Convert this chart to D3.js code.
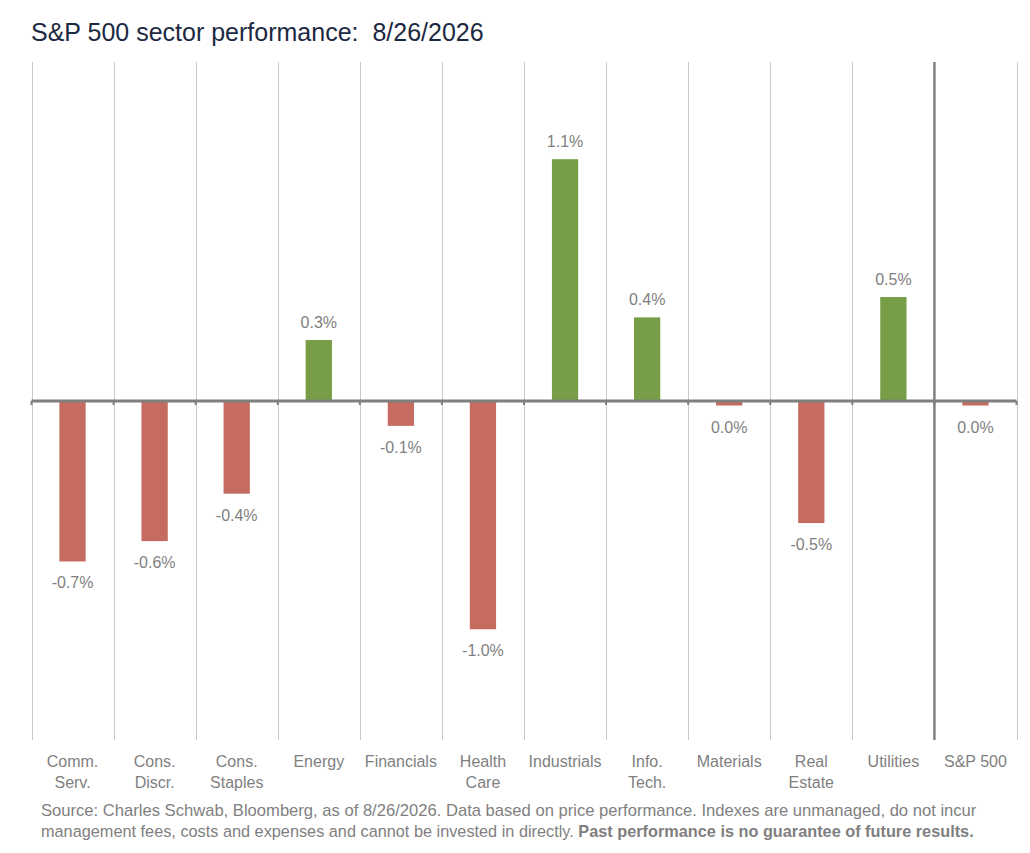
<!DOCTYPE html>
<html lang="en">
<head>
  <meta charset="UTF-8">
  <title>S&P 500 sector performance</title>
  <script src="https://d3js.org/d3.v7.min.js"></script>
  <style>
    body { margin: 0; background: #fff; }
    text { font-family: "Liberation Sans", Arial, sans-serif; }
  </style>
</head>
<body>

<svg id="chart" width="1030" height="853"></svg>

<script>
  // sector names (line breaks as on the chart)
  var sectors = [
    ['Comm.', 'Serv.'], ['Cons.', 'Discr.'], ['Cons.', 'Staples'], ['Energy'],
    ['Financials'], ['Health', 'Care'], ['Industrials'], ['Info.', 'Tech.'],
    ['Materials'], ['Real', 'Estate'], ['Utilities'], ['S&P 500']
  ];
  // daily % change
  var changes = [-0.71, -0.62, -0.41, 0.27, -0.11, -1.01, 1.07, 0.37, -0.02, -0.54, 0.46, -0.02];
  var yDomain = [-1.5, 1.5];

  var svg = d3.select('#chart');
  var keys = sectors.map(function (s) { return s.join(' '); });

  var x = d3.scaleBand().domain(keys).range([31.5, 1016.5]).padding(0);
  var y = d3.scaleLinear().domain(yDomain).range([740, 62]);
  var bw = x.bandwidth();
  var barW = bw * 0.32;

  // title
  svg.append('text')
    .attr('x', 31).attr('y', 41)
    .attr('fill', '#1c2942')
    .style('font-size', '25px')
    .attr('xml:space', 'preserve')
    .text('S&P 500 sector performance:  8/26/2026');

  // vertical grid lines at band edges
  var edges = keys.map(function (k) { return x(k); }).concat([x.range()[1]]);
  svg.append('g').selectAll('line')
    .data(edges)
    .enter().append('line')
    .attr('x1', function (d) { return Math.round(d) + 0.5; })
    .attr('x2', function (d) { return Math.round(d) + 0.5; })
    .attr('y1', y(yDomain[1])).attr('y2', y(yDomain[0]))
    .attr('stroke', '#c9c9c9').attr('stroke-width', 1);

  // separator before the index
  svg.append('line')
    .attr('x1', x('S&P 500')).attr('x2', x('S&P 500'))
    .attr('y1', y(yDomain[1])).attr('y2', y(yDomain[0]))
    .attr('stroke', '#7f7f7f').attr('stroke-width', 2.5);

  // bars
  svg.append('g').selectAll('rect')
    .data(changes)
    .enter().append('rect')
    .attr('x', function (d, i) { return x(keys[i]) + (bw - barW) / 2; })
    .attr('width', barW)
    .attr('y', function (d) { return y(Math.max(0, d)); })
    .attr('height', function (d) { return Math.abs(y(d) - y(0)); })
    .attr('fill', function (d) { return d >= 0 ? '#789d47' : '#c66b60'; });

  // zero line with small ticks
  svg.append('line')
    .attr('x1', x.range()[0]).attr('x2', x.range()[1])
    .attr('y1', y(0)).attr('y2', y(0))
    .attr('stroke', '#7f7f7f').attr('stroke-width', 3);
  svg.append('g').selectAll('line')
    .data(edges)
    .enter().append('line')
    .attr('x1', function (d) { return d; }).attr('x2', function (d) { return d; })
    .attr('y1', y(0)).attr('y2', y(0) + 4)
    .attr('stroke', '#7f7f7f').attr('stroke-width', 2);

  // value labels (plain hyphen for the minus, as on the chart)
  var fmt = d3.formatLocale({ decimal: '.', thousands: ',', grouping: [3], currency: ['', ''], minus: '-' }).format('.1f');
  svg.append('g').selectAll('text')
    .data(changes)
    .enter().append('text')
    .attr('x', function (d, i) { return x(keys[i]) + bw / 2; })
    .attr('y', function (d) { return d >= 0 ? y(d) - 12 : y(d) + 27; })
    .attr('text-anchor', 'middle')
    .attr('fill', '#7f7f7f')
    .style('font-size', '16px')
    .text(function (d) { return fmt(Math.abs(d) < 0.05 ? 0 : d) + '%'; });

  // category labels
  var cat = svg.append('g').selectAll('text')
    .data(sectors)
    .enter().append('text')
    .attr('x', function (d, i) { return x(keys[i]) + bw / 2; })
    .attr('y', 767)
    .attr('text-anchor', 'middle')
    .attr('fill', '#7f7f7f')
    .style('font-size', '16px');
  cat.selectAll('tspan')
    .data(function (d) { return d; })
    .enter().append('tspan')
    .attr('x', function () { return this.parentNode.getAttribute('x'); })
    .attr('dy', function (d, i) { return i ? 21 : 0; })
    .text(function (d) { return d; });

  // source note
  var note = svg.append('text')
    .attr('x', 41).attr('y', 816)
    .attr('fill', '#7f7f7f')
    .style('font-size', '16.6px');
  note.append('tspan')
    .text('Source: Charles Schwab, Bloomberg, as of 8/26/2026. Data based on price performance. Indexes are unmanaged, do not incur');
  var l2 = svg.append('text')
    .attr('x', 41).attr('y', 837)
    .attr('fill', '#7f7f7f')
    .style('font-size', '16.3px');
  l2.append('tspan').text('management fees, costs and expenses and cannot be invested in directly. ');
  l2.append('tspan').style('font-weight', 'bold').text('Past performance is no guarantee of future results.');
</script>

</body>
</html>
